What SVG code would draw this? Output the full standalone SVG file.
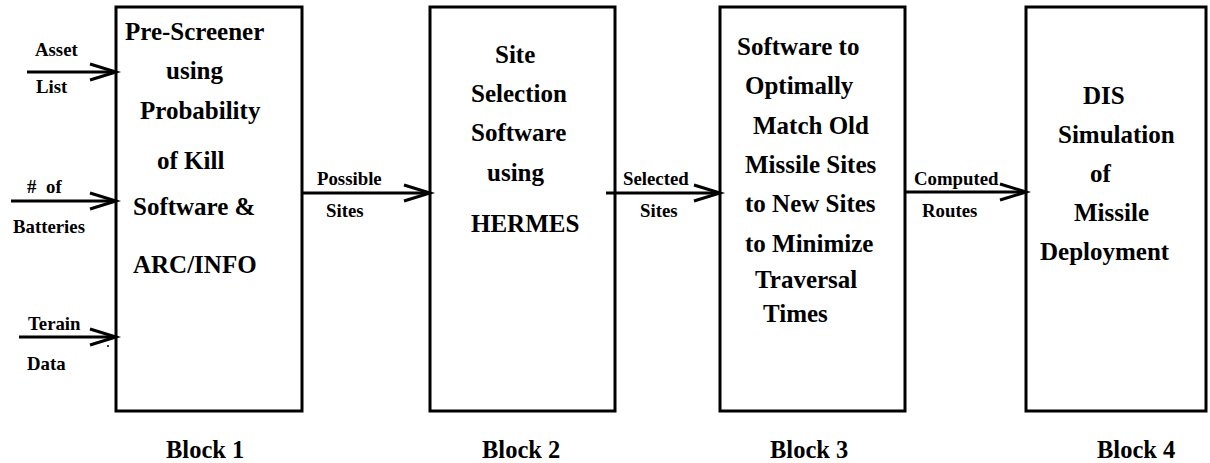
<svg xmlns="http://www.w3.org/2000/svg" width="1210" height="463" viewBox="0 0 1210 463">
<style>
.box{fill:#fff;stroke:#000;stroke-width:3}
.big{font-family:"Liberation Serif","Times New Roman",serif;font-weight:bold;font-size:25px;fill:#000}
.sm{font-family:"Liberation Serif","Times New Roman",serif;font-weight:bold;font-size:18.8px;fill:#000}
.lbl{font-family:"Liberation Serif","Times New Roman",serif;font-weight:bold;font-size:24.5px;fill:#000}
.conn{stroke:#000;stroke-width:3;fill:none}
</style>
<defs>
<marker id="arr" markerUnits="userSpaceOnUse" viewBox="-28 -11 30 22" refX="0" refY="0" markerWidth="30" markerHeight="22" orient="auto" overflow="visible">
<path d="M-26,-8 L0,0 L-26,8" fill="none" stroke="#000" stroke-width="3"/>
</marker>
</defs>
<rect width="1210" height="463" fill="#fff"/>

<g id="block1">
<rect class="box" x="116" y="7" width="186" height="404"/>
<text class="big" x="125" y="40">Pre-Screener</text>
<text class="big" x="166" y="79">using</text>
<text class="big" x="140" y="119">Probability</text>
<text class="big" x="157" y="169">of Kill</text>
<text class="big" x="133" y="215">Software &amp;</text>
<text class="big" x="133" y="273">ARC/INFO</text>
<text class="lbl" x="166" y="458">Block 1</text>
</g>

<g id="block2">
<rect class="box" x="430" y="7" width="185" height="404"/>
<text class="big" x="495" y="63">Site</text>
<text class="big" x="471" y="102">Selection</text>
<text class="big" x="471" y="141">Software</text>
<text class="big" x="487" y="181">using</text>
<text class="big" x="471" y="232">HERMES</text>
<text class="lbl" x="482" y="458">Block 2</text>
</g>

<g id="block3">
<rect class="box" x="720" y="7" width="185" height="404"/>
<text class="big" x="737" y="55">Software to</text>
<text class="big" x="745" y="94">Optimally</text>
<text class="big" x="753" y="134">Match Old</text>
<text class="big" x="745" y="173">Missile Sites</text>
<text class="big" x="745" y="212">to New Sites</text>
<text class="big" x="745" y="252">to Minimize</text>
<text class="big" x="755" y="288">Traversal</text>
<text class="big" x="763" y="322">Times</text>
<text class="lbl" x="770" y="458">Block 3</text>
</g>

<g id="block4">
<rect class="box" x="1026" y="7" width="180" height="404"/>
<text class="big" x="1083" y="104">DIS</text>
<text class="big" x="1058" y="143">Simulation</text>
<text class="big" x="1090" y="182">of</text>
<text class="big" x="1074" y="221">Missile</text>
<text class="big" x="1040" y="260">Deployment</text>
<text class="lbl" x="1097" y="458">Block 4</text>
</g>

<g id="connectors">
<line class="conn" x1="27" y1="72" x2="116" y2="72" marker-end="url(#arr)"/>
<line class="conn" x1="11" y1="201" x2="116" y2="201" marker-end="url(#arr)"/>
<line class="conn" x1="19" y1="337" x2="116" y2="337" marker-end="url(#arr)"/>
<line class="conn" x1="302" y1="193" x2="430" y2="193" marker-end="url(#arr)"/>
<line class="conn" x1="606" y1="193" x2="720" y2="193" marker-end="url(#arr)"/>
<line class="conn" x1="905" y1="192" x2="1026" y2="192" marker-end="url(#arr)"/>
<circle cx="108" cy="346" r="1" fill="#000"/>
</g>

<g id="labels">
<text class="sm" x="35" y="56">Asset</text>
<text class="sm" x="36" y="93">List</text>
<text class="sm" x="27" y="193" word-spacing="5">#  of</text>
<text class="sm" x="13" y="233">Batteries</text>
<text class="sm" x="28" y="330">Terain</text>
<text class="sm" x="27" y="370">Data</text>
<text class="sm" x="317" y="185">Possible</text>
<text class="sm" x="326" y="217">Sites</text>
<text class="sm" x="623" y="185">Selected</text>
<text class="sm" x="640" y="217">Sites</text>
<text class="sm" x="914" y="185">Computed</text>
<text class="sm" x="922" y="217">Routes</text>
</g>
</svg>
